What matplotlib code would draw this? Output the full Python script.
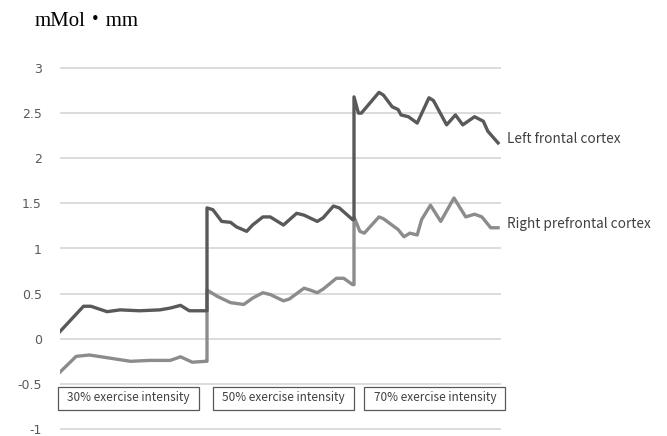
import matplotlib
matplotlib.use("Agg")
import matplotlib.pyplot as plt
from matplotlib.patches import Rectangle

# time axis: 0-1 = 30%, 1-2 = 50%, 2-3 = 70% exercise intensity
left_t = [0, 0.16, 0.21, 0.32, 0.41, 0.54, 0.68, 0.75, 0.82, 0.88, 0.99, 1.0,
          1.0, 1.04, 1.10, 1.16, 1.20, 1.27, 1.31, 1.38, 1.43, 1.52, 1.61, 1.66,
          1.75, 1.79, 1.86, 1.90, 1.99, 2.0,
          2.0, 2.03, 2.05, 2.17, 2.20, 2.26, 2.30, 2.32, 2.37, 2.43, 2.51, 2.54,
          2.63, 2.69, 2.74, 2.82, 2.88, 2.91, 2.98]
left_v = [0.08, 0.36, 0.36, 0.30, 0.32, 0.31, 0.32, 0.34, 0.37, 0.31, 0.31, 0.31,
          1.45, 1.43, 1.30, 1.29, 1.24, 1.19, 1.26, 1.35, 1.35, 1.26, 1.39, 1.37,
          1.30, 1.34, 1.47, 1.45, 1.32, 1.32,
          2.68, 2.50, 2.50, 2.73, 2.70, 2.57, 2.54, 2.48, 2.46, 2.39, 2.67, 2.64,
          2.37, 2.48, 2.37, 2.46, 2.41, 2.30, 2.17]

right_t = [0, 0.11, 0.20, 0.36, 0.48, 0.61, 0.75, 0.82, 0.90, 0.99, 1.0,
           1.0, 1.07, 1.16, 1.25, 1.31, 1.38, 1.43, 1.52, 1.56, 1.66, 1.70, 1.75,
           1.79, 1.88, 1.93, 1.99, 2.0,
           2.0, 2.04, 2.07, 2.17, 2.20, 2.30, 2.34, 2.38, 2.43, 2.46, 2.52, 2.59,
           2.68, 2.76, 2.82, 2.87, 2.93, 2.98]
right_v = [-0.37, -0.195, -0.18, -0.22, -0.25, -0.24, -0.24, -0.20, -0.26, -0.25, -0.25,
           0.54, 0.47, 0.40, 0.38, 0.45, 0.51, 0.49, 0.42, 0.44, 0.56, 0.54, 0.51,
           0.55, 0.67, 0.67, 0.60, 0.60,
           1.35, 1.19, 1.17, 1.35, 1.33, 1.21, 1.13, 1.17, 1.15, 1.32, 1.48, 1.30,
           1.56, 1.35, 1.38, 1.35, 1.23, 1.23]

series_names = ["Left frontal cortex", "Right prefrontal cortex"]
phase_labels = ["30% exercise intensity", "50% exercise intensity", "70% exercise intensity"]
yticks = [-1, -0.5, 0, 0.5, 1, 1.5, 2, 2.5, 3]

sans = ["Noto Sans CJK JP", "DejaVu Sans"]

W, H = 667, 436
fig = plt.figure(figsize=(W / 100, H / 100), dpi=100)
ax = fig.add_axes([60 / W, 1 - 430.8 / H, 441 / W, (430.8 - 66.2) / H])
ax.set_xlim(0, 3)
ax.set_ylim(-1.02, 3.02)

for y in yticks:
    ax.axhline(y, color="#d9d9d9", lw=1.3, zorder=0)

ax.plot(right_t, right_v, color="#8c8c8c", lw=2.4, solid_joinstyle="round", zorder=2)
ax.plot(left_t, left_v, color="#595959", lw=2.4, solid_joinstyle="round", zorder=3)

ax.text(3.04, 2.21, series_names[0], fontsize=9.8, color="#404040", va="center",
        family=sans, clip_on=False)
ax.text(3.04, 1.27, series_names[1], fontsize=9.8, color="#404040", va="center",
        family=sans, clip_on=False)

# label boxes under each phase
box_left = [-0.014, 1.04, 2.07]
for i, lab in enumerate(phase_labels):
    ax.add_patch(Rectangle((box_left[i], -0.786), 0.96, 0.256, fc="white",
                           ec="#595959", lw=0.9, zorder=4, clip_on=False))
    ax.text(box_left[i] + 0.48, -0.655, lab, fontsize=8.5, color="#404040",
            ha="center", va="center", family=sans, zorder=5)

ax.set_yticks(yticks)
ax.set_yticklabels([f"{v:g}" for v in yticks], color="#595959", fontsize=9)
ax.tick_params(axis="y", length=0, pad=13)
ax.set_xticks([])
for s in ax.spines.values():
    s.set_visible(False)

fig.text(35 / W, 1 - 21 / H, "mMol・mm", fontsize=15, va="center",
         family=["Liberation Serif", "Noto Sans CJK JP"])

fig.savefig("out.png", dpi=100)
